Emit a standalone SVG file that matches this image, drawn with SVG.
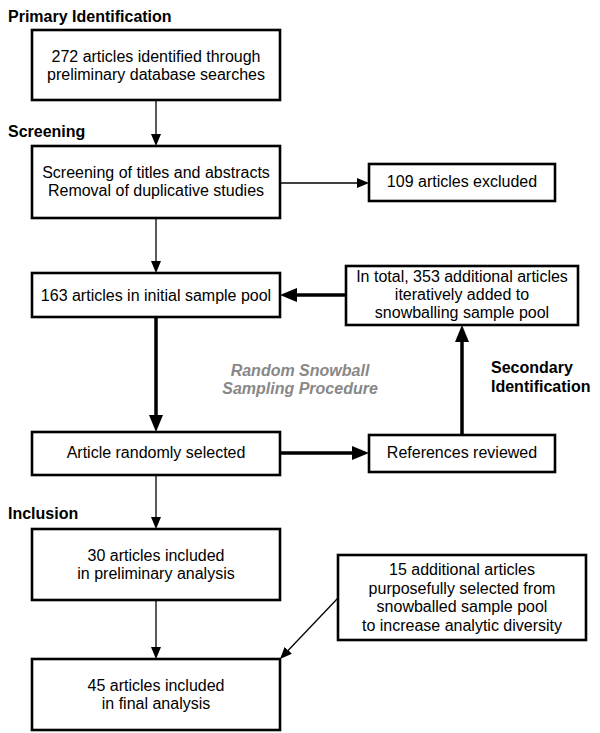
<svg xmlns="http://www.w3.org/2000/svg" width="600" height="733" viewBox="0 0 600 733">
<style>
  .box { fill: #fff; stroke: #000; stroke-width: 2.6; }
  .t { font-family: "Liberation Sans", Arial, sans-serif; font-size: 16px; fill: #000; text-anchor: middle; }
  .lbl { font-family: "Liberation Sans", Arial, sans-serif; font-size: 16px; font-weight: bold; fill: #000; }
  .proc { font-family: "Liberation Sans", Arial, sans-serif; font-size: 16px; font-weight: bold; font-style: italic; fill: #888; text-anchor: middle; }
  .thin { stroke: #000; stroke-width: 1.3; fill: none; marker-end: url(#ah); }
  .thick { stroke: #000; stroke-width: 3.5; fill: none; marker-end: url(#ahb); }
</style>
<defs>
  <marker id="ah" markerUnits="userSpaceOnUse" markerWidth="12" markerHeight="10" refX="2" refY="5" orient="auto">
    <path d="M0,0 L12,5 L0,10 z" fill="#000"/>
  </marker>
  <marker id="ahb" markerUnits="userSpaceOnUse" markerWidth="17" markerHeight="14" refX="5" refY="7" orient="auto">
    <path d="M0,0 L17,7 L0,14 z" fill="#000"/>
  </marker>
</defs>
<rect width="600" height="733" fill="#fff"/>

<g id="labels">
  <text class="lbl" x="8" y="22">Primary Identification</text>
  <text class="lbl" x="8" y="137">Screening</text>
  <text class="lbl" x="8" y="519">Inclusion</text>
  <text class="lbl" x="491" y="373">Secondary</text>
  <text class="lbl" x="491" y="392">Identification</text>
  <text class="proc" x="300" y="376">Random Snowball</text>
  <text class="proc" x="300" y="394">Sampling Procedure</text>
</g>

<g id="connectors">
  <line class="thin" x1="156" y1="100" x2="156" y2="136"/>
  <line class="thin" x1="280" y1="183" x2="359" y2="183"/>
  <line class="thin" x1="156" y1="218" x2="156" y2="263"/>
  <line class="thick" x1="346" y1="295" x2="292" y2="295"/>
  <line class="thick" x1="156" y1="317" x2="156" y2="420"/>
  <line class="thick" x1="280" y1="453" x2="357" y2="453"/>
  <line class="thick" x1="462" y1="435" x2="462" y2="337"/>
  <line class="thin" x1="156" y1="475" x2="156" y2="519"/>
  <line class="thin" x1="156" y1="600" x2="156" y2="649"/>
  <line class="thin" x1="338" y1="598" x2="286.9" y2="651.75"/>
</g>

<g id="n1">
  <rect class="box" x="32" y="30" width="248" height="70"/>
  <text class="t" x="156" y="62">272 articles identified through</text>
  <text class="t" x="156" y="80">preliminary database searches</text>
</g>
<g id="n2">
  <rect class="box" x="32" y="146" width="248" height="72"/>
  <text class="t" x="156" y="178">Screening of titles and abstracts</text>
  <text class="t" x="156" y="196">Removal of duplicative studies</text>
</g>
<g id="n3">
  <rect class="box" x="369" y="164" width="186" height="37"/>
  <text class="t" x="462" y="187">109 articles excluded</text>
</g>
<g id="n4">
  <rect class="box" x="32" y="273" width="248" height="44"/>
  <text class="t" x="156" y="301">163 articles in initial sample pool</text>
</g>
<g id="n5">
  <rect class="box" x="346" y="266" width="232" height="59"/>
  <text class="t" x="462" y="282">In total, 353 additional articles</text>
  <text class="t" x="462" y="300">iteratively added to</text>
  <text class="t" x="462" y="318">snowballing sample pool</text>
</g>
<g id="n6">
  <rect class="box" x="32" y="432" width="248" height="43"/>
  <text class="t" x="156" y="458">Article randomly selected</text>
</g>
<g id="n7">
  <rect class="box" x="369" y="435" width="186" height="37"/>
  <text class="t" x="462" y="458">References reviewed</text>
</g>
<g id="n8">
  <rect class="box" x="32" y="529" width="248" height="71"/>
  <text class="t" x="156" y="561">30 articles included</text>
  <text class="t" x="156" y="579">in preliminary analysis</text>
</g>
<g id="n9">
  <rect class="box" x="338" y="555" width="248" height="85"/>
  <text class="t" x="462" y="575">15 additional articles</text>
  <text class="t" x="462" y="594">purposefully selected from</text>
  <text class="t" x="462" y="612">snowballed sample pool</text>
  <text class="t" x="462" y="631">to increase analytic diversity</text>
</g>
<g id="n10">
  <rect class="box" x="32" y="659" width="248" height="71"/>
  <text class="t" x="156" y="691">45 articles included</text>
  <text class="t" x="156" y="709">in final analysis</text>
</g>
</svg>
